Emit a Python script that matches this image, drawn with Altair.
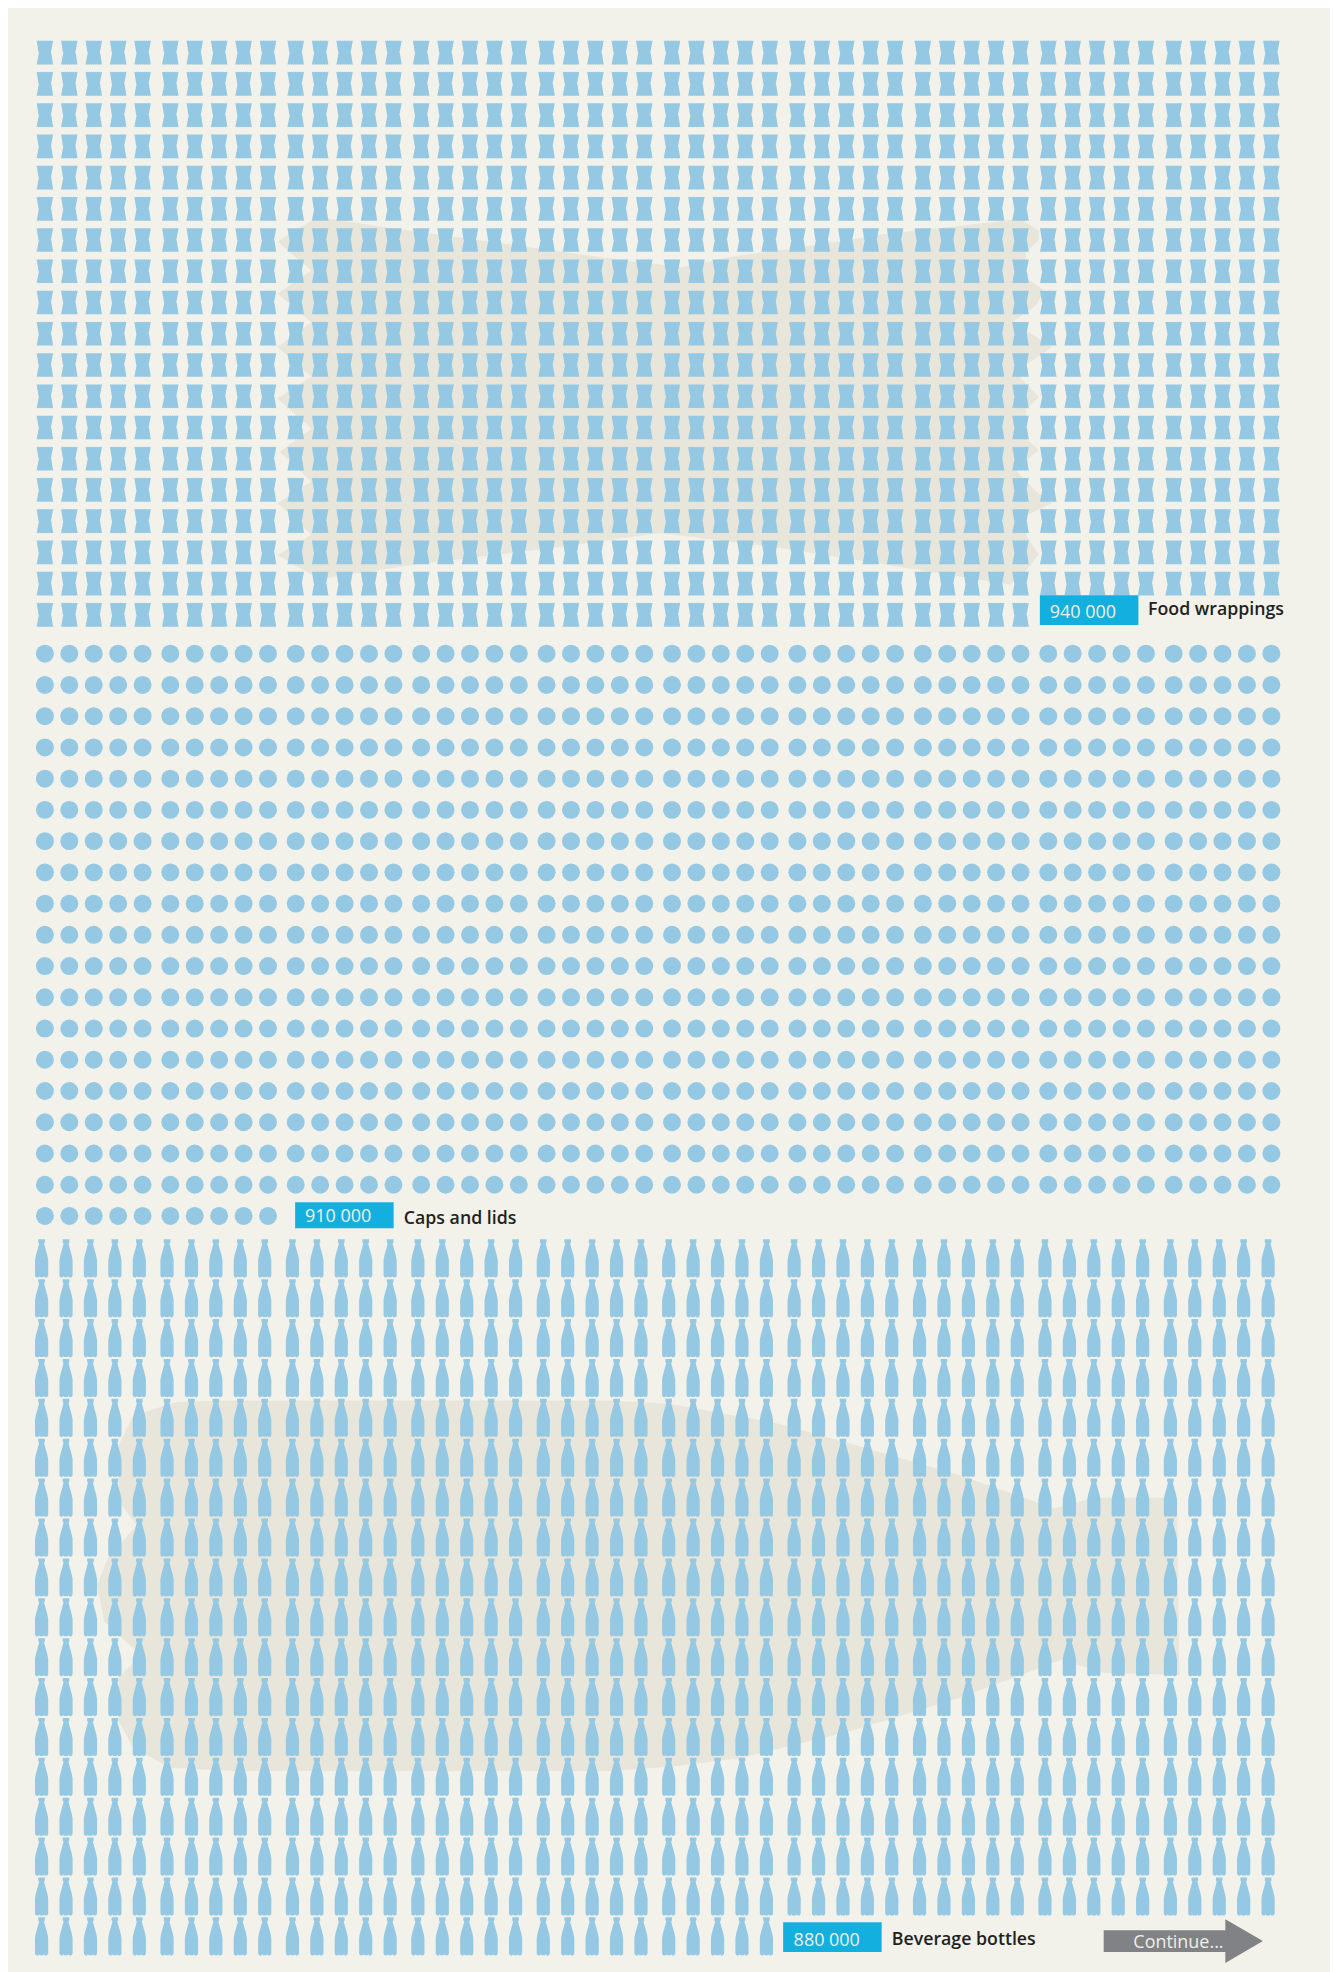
import altair as alt
import pandas as pd

# ---- values
names = ["Food wrappings", "Caps and lids", "Beverage bottles"]
amounts = [940000, 910000, 880000]
amount_labels = ["940 000", "910 000", "880 000"]
per_glyph = 1000
per_row = 50

# ---- layout of each series (px in the reference)
first_x = [45.0, 45.0, 41.7]
first_y = [49.8, 652.7, 1259.2]
row_step = [31.33, 31.33, 40.0]
col_step = 24.5
group_step = 125.8
box_x = [1043, 296, 785.5]
box_y = [594, 1203, 1925]
box_w = 98.8
box_h = [30, 26, 30]
value_x = [1053, 306, 796]
value_y = [616.5, 1222.5, 1948.5]
label_x = [1151.5, 405, 894.5]
label_y = [613.5, 1225, 1947.5]

blob_food = [(35,118),(100,55),(130,48),(240,75),(450,120),(700,175),(810,195),(900,165),(1040,135),(1200,95),
    (1350,70),(1460,50),(1495,85),(1495,115),(1470,150),(1470,225),(1505,265),(1490,310),(1445,360),(1470,385),
    (1520,435),(1470,490),(1460,530),(1495,585),(1470,625),(1470,710),(1495,745),(1450,805),(1490,870),(1520,905),
    (1460,950),(1470,1000),(1495,1060),(1470,1110),(1440,1150),(1420,1145),(1200,1090),(1000,1040),(770,995),
    (560,1040),(300,1090),(130,1130),(100,1120),(35,1062),(100,1000),(35,905),(100,840),(40,750),(100,680),
    (35,590),(100,525),(35,435),(100,360),(35,275),(100,205)]
blob_bottle = [(120,100),(200,95),(720,95),(800,105),(950,165),(1050,225),(1200,320),(1330,420),(1385,388),(1500,388),
    (1503,920),(1400,915),(1340,875),(1200,990),(1050,1090),(900,1170),(810,1195),(720,1210),(200,1210),(110,1200),
    (60,1140),(40,1060),(40,930),(70,860),(20,760),(10,650),(25,570),(65,470),(40,400),(40,230),(60,140)]

PANEL = "#f2f1ea"
BLOB = "#e8e6da"
GLYPH = "#94c8e3"
BOX = "#13afdf"
INK = "#231f20"
GREY = "#808285"
PALE = "#f0efe6"
FONT = "Open Sans"


def to_path(pts, unit):
    return "M" + "L".join(f"{x/unit:.4f},{y/unit:.4f}" for x, y in pts) + "Z"


# glyph outlines in px round the centre
wrap = [(-8.3, -12.1)]
for i in range(1, 9):
    wrap += [(-8.3 + (i - 0.5) * 16.6 / 8, -11.6), (-8.3 + i * 16.6 / 8, -12.1)]
wrap += [(6.6, -3), (6.0, -0.3), (6.4, 0.4), (8.3, 12.1)]
for i in range(1, 9):
    wrap += [(8.3 - (i - 0.5) * 16.6 / 8, 11.6), (8.3 - i * 16.6 / 8, 12.1)]
wrap += [(-6.6, 3), (-6.0, 0.3), (-6.4, -0.4)]

bottle = [(-3.3, -19.1), (3.3, -19.1), (3.3, -15.8), (2.5, -15.4), (2.8, -13.5), (5.6, -3.5), (6.6, 1.5), (6.6, 17.2),
          (5.8, 18.8), (4.5, 19.2), (3.4, 19.1), (2.6, 17.9), (1.8, 19), (-1.8, 19), (-2.6, 17.9), (-3.4, 19.1),
          (-4.5, 19.2), (-5.8, 18.8), (-6.6, 17.2), (-6.6, 1.5), (-5.6, -3.5), (-2.8, -13.5), (-2.5, -15.4),
          (-3.3, -15.8)]
arrow = [(1107, 1933), (1229, 1933), (1229, 1922), (1266.7, 1944), (1229, 1966), (1229, 1955), (1107, 1955)]

U = 20.0
SIZE = (2 * U) ** 2
BU = 1000.0
BSIZE = (2 * BU) ** 2

rows = []
for s, amount in enumerate(amounts):
    for k in range(amount // per_glyph):
        r, c = divmod(k, per_row)
        rows.append({
            "series": names[s],
            "x": first_x[s] + (c // 5) * group_step + (c % 5) * col_step,
            "y": first_y[s] + r * row_step[s],
        })
glyphs = pd.DataFrame(rows)

xs = alt.Scale(domain=[8, 1334], nice=False, zero=False)
ys = alt.Scale(domain=[8, 1972], nice=False, zero=False, reverse=True)
X = alt.X("x:Q", scale=xs, axis=None)
Y = alt.Y("y:Q", scale=ys, axis=None)
origin = pd.DataFrame({"x": [0], "y": [0]})


def shape_layer(df, path, size, color):
    return alt.Chart(df).mark_point(filled=True, shape=path, size=size, color=color, opacity=1,
                                    strokeWidth=0, clip=False).encode(x=X, y=Y)


b1 = [(260 + x / 1.912, 200 + y / 3) for x, y in blob_food]
b2 = [(90 + x / 1.3754, 1370 + y / 3) for x, y in blob_bottle]
layers = [
    shape_layer(origin, to_path(b1, BU), BSIZE, BLOB),
    shape_layer(origin, to_path(b2, BU), BSIZE, BLOB),
    shape_layer(glyphs[glyphs.series == names[0]], to_path(wrap, U), SIZE, GLYPH),
    shape_layer(glyphs[glyphs.series == names[1]], "circle", 18 ** 2, GLYPH),
    shape_layer(glyphs[glyphs.series == names[2]], to_path(bottle, U), SIZE, GLYPH),
]

boxes = pd.DataFrame({"x": box_x, "x2": [v + box_w for v in box_x], "y": box_y,
                      "y2": [a + b for a, b in zip(box_y, box_h)]})
layers.append(alt.Chart(boxes).mark_rect(color=BOX).encode(x=X, x2="x2:Q", y=Y, y2="y2:Q"))

values = pd.DataFrame({"x": value_x, "y": value_y, "t": amount_labels})
layers.append(alt.Chart(values).mark_text(font=FONT, fontSize=18, color=PALE, align="left", baseline="alphabetic")
              .encode(x=X, y=Y, text="t:N"))
labels = pd.DataFrame({"x": label_x, "y": label_y, "t": names})
layers.append(alt.Chart(labels).mark_text(font=FONT, fontSize=17.8, fontWeight=600, color=INK, align="left",
                                          baseline="alphabetic").encode(x=X, y=Y, text="t:N"))

layers.append(shape_layer(origin, to_path(arrow, BU), BSIZE, GREY))
layers.append(alt.Chart(pd.DataFrame({"x": [1182], "y": [1951], "t": ["Continue..."]}))
              .mark_text(font=FONT, fontSize=18, color=PALE, align="center", baseline="alphabetic")
              .encode(x=X, y=Y, text="t:N"))

chart = (alt.layer(*layers)
         .properties(width=1326, height=1964, padding=0, background=PANEL,
                     autosize=alt.AutoSizeParams(type="none"))
         .configure_view(stroke=None))

chart.save("out.html", embed_options={"renderer": "svg", "actions": False})
